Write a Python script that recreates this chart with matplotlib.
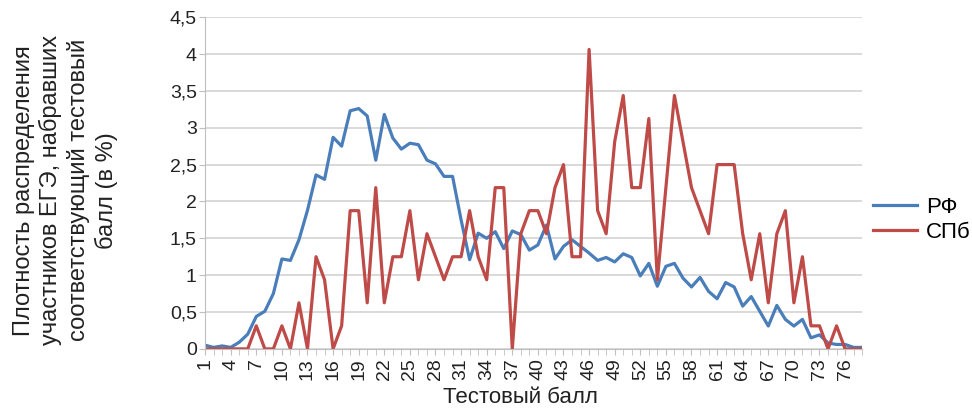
import numpy as np
from matplotlib import pyplot as plt

# Test score categories and distribution density (%)
scores = np.arange(1, 79)
rf = [0.05, 0.02, 0.04, 0.02, 0.09, 0.2, 0.44, 0.51, 0.75, 1.22,
      1.2, 1.48, 1.88, 2.36, 2.3, 2.87, 2.75, 3.23, 3.26, 3.16,
      2.56, 3.18, 2.86, 2.71, 2.79, 2.77, 2.56, 2.51, 2.34, 2.34,
      1.75, 1.21, 1.57, 1.5, 1.59, 1.36, 1.6, 1.55, 1.34, 1.41,
      1.68, 1.22, 1.39, 1.48, 1.39, 1.3, 1.2, 1.24, 1.18, 1.29,
      1.24, 0.99, 1.16, 0.85, 1.12, 1.16, 0.96, 0.84, 0.97, 0.78,
      0.68, 0.9, 0.84, 0.58, 0.71, 0.51, 0.31, 0.59, 0.4, 0.31,
      0.4, 0.15, 0.19, 0.08, 0.06, 0.06, 0.02, 0.02]
spb = [0, 0, 0, 0, 0, 0, 0.3125, 0, 0, 0.3125,
       0, 0.625, 0, 1.25, 0.9375, 0, 0.3125, 1.875, 1.875, 0.625,
       2.1875, 0.625, 1.25, 1.25, 1.875, 0.9375, 1.5625, 1.25, 0.9375, 1.25,
       1.25, 1.875, 1.25, 0.9375, 2.1875, 2.1875, 0, 1.5625, 1.875, 1.875,
       1.5625, 2.1875, 2.5, 1.25, 1.25, 4.0625, 1.875, 1.5625, 2.8125, 3.4375,
       2.1875, 2.1875, 3.125, 0.9375, 2.1875, 3.4375, 2.8125, 2.1875, 1.875, 1.5625,
       2.5, 2.5, 2.5, 1.5625, 0.9375, 1.5625, 0.625, 1.5625, 1.875, 0.625,
       1.25, 0.3125, 0.3125, 0, 0.3125, 0, 0, 0]
series_names = ['РФ', 'СПб']
x_ticks = list(range(1, 77, 3))
y_ticks = [0, 0.5, 1, 1.5, 2, 2.5, 3, 3.5, 4, 4.5]
y_tick_labels = ['0', '0,5', '1', '1,5', '2', '2,5', '3', '3,5', '4', '4,5']

plt.rcParams['font.family'] = ['Liberation Sans', 'DejaVu Sans']

fig = plt.figure(figsize=(9.72, 4.09), dpi=100)
ax = fig.add_axes([0.211, 0.147, 0.676, 0.811])

ax.plot(scores, rf, color='#4a7ebb', lw=2.3, label=series_names[0])
ax.plot(scores, spb, color='#be4b48', lw=2.3, label=series_names[1])

ax.set_xlim(1, 78)
ax.set_ylim(0, 4.5)
ax.set_yticks(y_ticks)
ax.set_yticklabels(y_tick_labels)
ax.set_xticks(x_ticks)
ax.set_xticklabels([str(t) for t in x_ticks], rotation=90)
ax.set_xticks(scores, minor=True)

ax.grid(axis='y', color='#d0d0d0', lw=1.1)
ax.set_axisbelow(True)
for side in ['top', 'right']:
    ax.spines[side].set_visible(False)
ax.spines['left'].set_color('#bfbfbf')
ax.spines['bottom'].set_color('#bfbfbf')
ax.tick_params(axis='y', labelsize=14, length=4, color='#bfbfbf', colors='#222222', pad=2)
ax.tick_params(axis='x', which='both', labelsize=14, length=4, color='#bfbfbf', pad=3)
ax.tick_params(axis='x', which='major', labelcolor='#222222')

fig.text(0.535, 0.027, 'Тестовый балл', ha='center', va='center', fontsize=16, color='#222222')
fig.text(0.067, 0.535, 'Плотность распределения\nучастников ЕГЭ, набравших\nсоответствующий тестовый\nбалл (в %)',
         ha='center', va='center', rotation=90, multialignment='center', fontsize=17,
         color='#222222', linespacing=1.25)

ax.legend(loc='center left', bbox_to_anchor=(0.898, 0.462), bbox_transform=fig.transFigure,
          frameon=False, fontsize=16, handlelength=2.0, handletextpad=0.4,
          labelspacing=0.2, borderpad=0, borderaxespad=0)

fig.savefig('out.png', dpi=100)
